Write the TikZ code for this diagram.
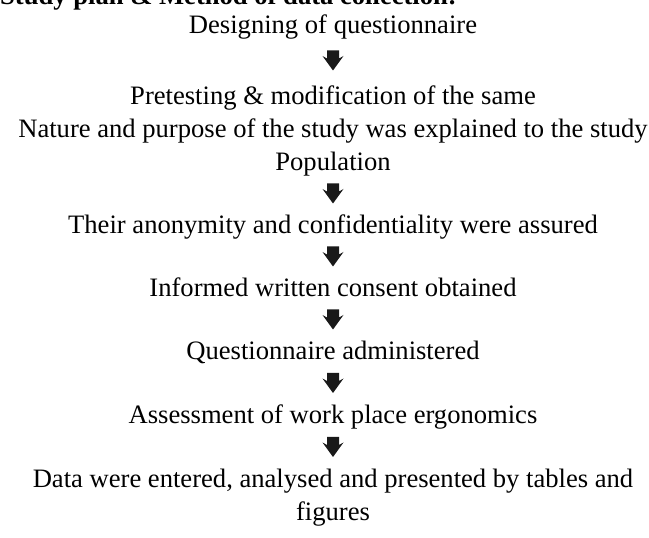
\documentclass[tikz,border=0pt]{standalone}
\usepackage{fontspec}
\setmainfont{Liberation Serif}
\tikzset{
  x=1pt, y=1pt,
  steptext/.style={inner sep=0pt, anchor=base, align=center, font=\fontsize{26.6}{33}\selectfont},
  titletext/.style={inner sep=0pt, anchor=base west, font=\fontsize{26.6}{33}\selectfont\bfseries},
  blockarrow/.pic={\fill[black!90] (-6,0) -- (6,0) -- (6,-8) -- (10.5,-5.5) -- (0,-20) -- (-10.5,-5.5) -- (-6,-8) -- cycle;}
}
\begin{document}
\begin{tikzpicture}
\useasboundingbox (0,0) rectangle (649,538);
\clip (0,0) rectangle (649,538);
\node[titletext] (title) at (0,533) {Study plan \& Method of data collection:};
\node[steptext] (s1) at (333,504) {Designing of questionnaire};
\node[steptext] (s2) at (333,433) {Pretesting \& modification of the same};
\node[steptext] (s3) at (333,367) {Nature and purpose of the study was explained to the study\\Population};
\node[steptext] (s4) at (333,304) {Their anonymity and confidentiality were assured};
\node[steptext] (s5) at (333,241) {Informed written consent obtained};
\node[steptext] (s6) at (333,178) {Questionnaire administered};
\node[steptext] (s7) at (333,114) {Assessment of work place ergonomics};
\node[steptext] (s8) at (333,17) {Data were entered, analysed and presented by tables and\\figures};
\coordinate (a1) at (333,487.5);
\coordinate (a2) at (333,354.5);
\coordinate (a3) at (333,291.5);
\coordinate (a4) at (333,228.5);
\coordinate (a5) at (333,165);
\coordinate (a6) at (333,101);
\foreach \c in {a1,a2,a3,a4,a5,a6} { \pic at (\c) {blockarrow}; }
\end{tikzpicture}
\end{document}
